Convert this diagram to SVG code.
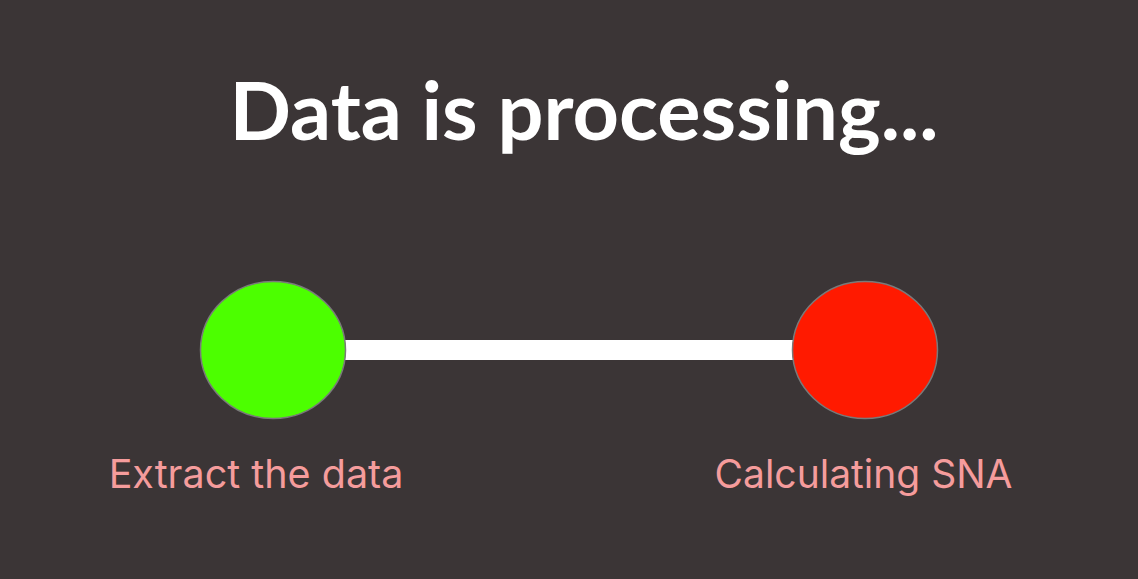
<svg xmlns="http://www.w3.org/2000/svg" width="1138" height="579" viewBox="0 0 1138 579">
<style>
.title{font-family:Lato,"Liberation Sans",sans-serif;font-weight:bold;font-size:81px;fill:#ffffff}
.label{font-family:Inter,"Liberation Sans",sans-serif;font-size:39.5px;fill:#f59c9c}
.node{stroke:#7a7a7a;stroke-width:1.5}
</style>
<rect width="1138" height="579" fill="#3b3536"/>
<text class="title" x="584" y="140" text-anchor="middle">Data is processing...</text>
<g id="connectors">
<rect x="344" y="340" width="450" height="20" fill="#ffffff"/>
</g>
<g id="node-extract">
<ellipse class="node" cx="273" cy="350" rx="72.5" ry="68.5" fill="#4cff00"/>
<text class="label" x="256" y="488" text-anchor="middle">Extract the data</text>
</g>
<g id="node-sna">
<ellipse class="node" cx="865" cy="350" rx="72.5" ry="68.5" fill="#ff1a00"/>
<text class="label" x="863.5" y="488" text-anchor="middle" style="font-size:39px">Calculating SNA</text>
</g>
</svg>
